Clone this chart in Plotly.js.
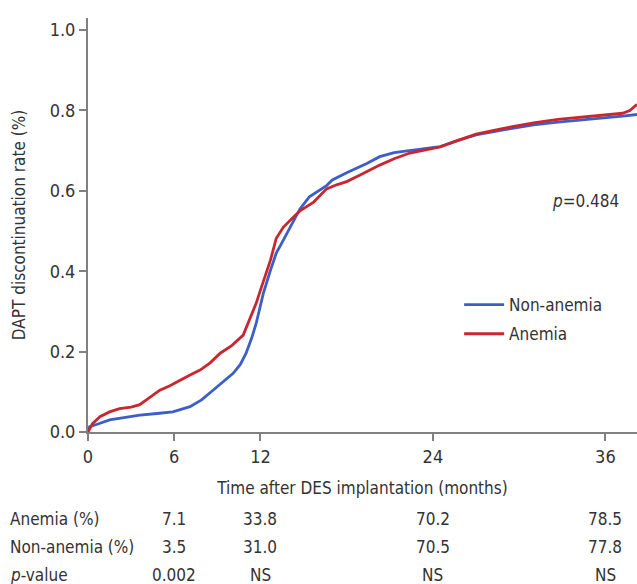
<!DOCTYPE html>
<html>
<head>
<meta charset="utf-8">
<script src="https://cdn.plot.ly/plotly-3.0.1.min.js"></script>
<style>html,body{margin:0;padding:0;background:#fff;}#chart{width:637px;height:584px;}</style>
</head>
<body>
<div id="chart"></div>
<script>
// Non-anemia (blue) curve
const nonAnemiaMonths = [0,0.1,0.7,1.5,2.5,3.6,4.8,5.9,7.1,7.9,8.7,9.4,10.1,10.6,11.0,11.4,11.7,12.0,12.2,12.7,13.1,13.6,14.3,14.75,15.4,16.0,16.6,17.0,18.0,19.4,20.3,21.3,22.4,23.5,24.5,25.7,27.0,29.0,31.0,32.7,34.4,36.0,37.2,38.2];
const nonAnemiaRate = [0,0.013,0.02,0.03,0.036,0.042,0.046,0.05,0.063,0.08,0.104,0.124,0.146,0.168,0.196,0.235,0.27,0.315,0.345,0.403,0.445,0.478,0.527,0.555,0.585,0.6,0.613,0.627,0.645,0.668,0.685,0.695,0.7,0.705,0.71,0.725,0.739,0.752,0.764,0.771,0.776,0.782,0.786,0.79];
// Anemia (red) curve
const anemiaMonths = [0,0.3,0.83,1.5,2.2,3.0,3.6,4.3,5.0,5.7,6.4,7.1,7.8,8.5,9.2,10.0,10.8,11.3,11.7,12.0,12.4,12.7,13.1,13.6,14.3,14.75,15.7,16.6,17.3,18.0,18.9,19.4,20.3,21.3,22.4,23.5,24.5,25.7,27.0,29.0,31.0,32.7,34.4,36.0,37.2,37.7,38.2];
const anemiaRate = [0,0.02,0.038,0.05,0.058,0.062,0.068,0.085,0.104,0.115,0.129,0.142,0.154,0.172,0.196,0.215,0.241,0.287,0.32,0.353,0.395,0.428,0.482,0.51,0.535,0.55,0.572,0.605,0.615,0.623,0.639,0.648,0.664,0.68,0.694,0.702,0.709,0.725,0.741,0.756,0.769,0.778,0.784,0.788,0.793,0.8,0.815];

// Table beneath the chart
const tableMonths = [6, 12, 24, 36];
const rowLabels = ['Anemia (%)', 'Non-anemia (%)', '<i>p</i>-value'];
const anemiaPct = ['7.1', '33.8', '70.2', '78.5'];
const nonAnemiaPct = ['3.5', '31.0', '70.5', '77.8'];
const pValues = ['0.002', 'NS', 'NS', 'NS'];

const xTicks = [0, 6, 12, 24, 36];
const yTicks = [0, 0.2, 0.4, 0.6, 0.8, 1.0];
const yTickText = ['0.0', '0.2', '0.4', '0.6', '0.8', '1.0'];

const FONT = '"Liberation Sans Narrow", "DejaVu Sans Condensed", Roboto, sans-serif';
const TXT = '#333333';

const traces = [
  {x: nonAnemiaMonths, y: nonAnemiaRate, type: 'scatter', mode: 'lines', name: 'Non-anemia',
   legendgroup: 'a', line: {color: '#3b5fc6', width: 2.8}},
  {x: anemiaMonths, y: anemiaRate, type: 'scatter', mode: 'lines', name: 'Anemia',
   legendgroup: 'b', line: {color: '#c9262f', width: 2.8}}
];

const annotations = [];
const rows = [anemiaPct, nonAnemiaPct, pValues];
const rowY = [-0.21, -0.277, -0.345];
rows.forEach((vals, r) => {
  annotations.push({xref: 'paper', yref: 'paper', x: -0.145, y: rowY[r], xanchor: 'left', yanchor: 'middle',
    text: rowLabels[r], showarrow: false, font: {family: FONT, size: 17, color: TXT}});
  vals.forEach((v, i) => {
    annotations.push({xref: 'x', yref: 'paper', x: tableMonths[i], y: rowY[r], xanchor: 'center', yanchor: 'middle',
      text: v, showarrow: false, font: {family: FONT, size: 17, color: TXT}});
  });
});
annotations.push({xref: 'x', yref: 'y', x: 37.1, y: 0.575, xanchor: 'right', yanchor: 'middle',
  text: '<i>p</i>=0.484', showarrow: false, font: {family: FONT, size: 17, color: TXT}});

const layout = {
  width: 637, height: 584,
  margin: {l: 88, r: 0, t: 18, b: 152},
  paper_bgcolor: '#ffffff', plot_bgcolor: '#ffffff',
  font: {family: FONT, color: TXT},
  showlegend: true,
  legend: {x: 0.676, y: 0.35, xanchor: 'left', yanchor: 'top', bgcolor: 'rgba(0,0,0,0)',
    font: {family: FONT, size: 17, color: TXT}, tracegroupgap: 4, itemwidth: 40},
  xaxis: {
    range: [0, 38.2], tickmode: 'array', tickvals: xTicks, ticktext: xTicks.map(String),
    showgrid: false, zeroline: false, showline: true, linecolor: '#808080', linewidth: 2,
    ticks: 'outside', ticklen: 7, tickwidth: 2, tickcolor: '#808080',
    tickfont: {family: FONT, size: 18, color: TXT},
    title: {text: 'Time after DES implantation (months)', font: {family: FONT, size: 17, color: TXT}, standoff: 17}
  },
  yaxis: {
    range: [0, 1.03], tickmode: 'array', tickvals: yTicks, ticktext: yTickText,
    showgrid: false, zeroline: false, showline: true, linecolor: '#808080', linewidth: 2,
    ticks: 'outside', ticklen: 7, tickwidth: 2, tickcolor: '#808080',
    tickfont: {family: FONT, size: 18, color: TXT},
    title: {text: 'DAPT discontinuation rate (%)', font: {family: FONT, size: 17, color: TXT}, standoff: 20}
  },
  annotations: annotations
};

Plotly.newPlot('chart', traces, layout, {displayModeBar: false, staticPlot: true});
</script>
</body>
</html>
